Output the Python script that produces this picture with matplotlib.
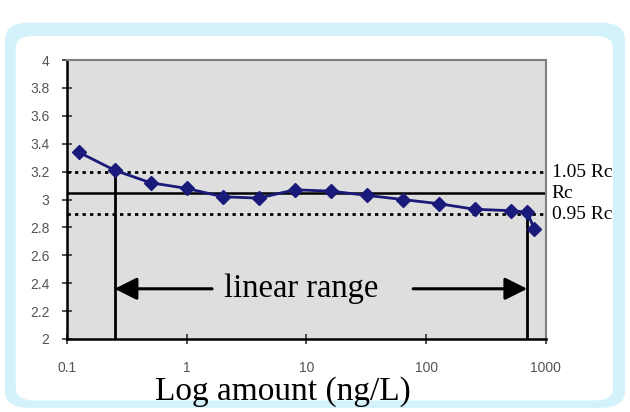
import matplotlib.pyplot as plt
from matplotlib.patches import FancyBboxPatch
from matplotlib.transforms import blended_transform_factory

# datos
amount = [0.125, 0.25, 0.5, 1, 2, 4, 8, 16, 32, 64, 128, 256, 512, 700, 800]
ratio = [3.34, 3.21, 3.12, 3.08, 3.02, 3.01, 3.07, 3.06, 3.03, 3.00, 2.97, 2.93, 2.92, 2.91, 2.79]
rc = 3.045
band_labels = ['1.05 Rc', 'Rc', '0.95 Rc']
band_factors = [1.05, 1.0, 0.95]
range_low, range_high = 0.25, 700
arrow_y = 2.36
arrow_left_start = 1.63
arrow_right_start = 78
xticks = [0.1, 1, 10, 100, 1000]
xtick_labels = ['0.1', '1', '10', '100', '1000']
yticks = [2, 2.2, 2.4, 2.6, 2.8, 3, 3.2, 3.4, 3.6, 3.8, 4]
ytick_labels = ['2', '2.2', '2.4', '2.6', '2.8', '3', '3.2', '3.4', '3.6', '3.8', '4']

serif = 'Liberation Serif'

fig = plt.figure(figsize=(6.3, 4.12), dpi=100)

# marco azul redondeado
outer = FancyBboxPatch((0.008, 0.01), 0.984, 0.935, boxstyle='round,pad=0,rounding_size=0.04',
                       transform=fig.transFigure, facecolor='#d3f2fc', edgecolor='none', zorder=-2)
inner = FancyBboxPatch((0.025, 0.028), 0.948, 0.885, boxstyle='round,pad=0,rounding_size=0.03',
                       transform=fig.transFigure, facecolor='white', edgecolor='none', zorder=-1)
fig.patches.extend([outer, inner])

ax = fig.add_axes([0.1063, 0.1772, 0.760, 0.677])
ax.set_facecolor('#dedede')
ax.set_xscale('log')
ax.set_xlim(0.1, 1000)
ax.set_ylim(2, 4)

ax.set_xticks(xticks)
ax.set_xticklabels(xtick_labels)
ax.set_yticks(yticks)
ax.set_yticklabels(ytick_labels)
ax.minorticks_off()
ax.tick_params(direction='inout', length=7, width=1.2, color='#333333',
               labelsize=10, labelcolor='#555555')
ax.tick_params(axis='x', pad=12)
ax.tick_params(axis='y', pad=9)
for lab in ax.get_xticklabels() + ax.get_yticklabels():
    lab.set_family('Liberation Sans')

for s in ['left', 'bottom']:
    ax.spines[s].set_color('black')
    ax.spines[s].set_linewidth(1.8)
for s in ['top', 'right']:
    ax.spines[s].set_color('#808080')
    ax.spines[s].set_linewidth(1.5)

# lineas Rc
trans = blended_transform_factory(ax.transAxes, ax.transData)
for f, lab in zip(band_factors, band_labels):
    y = rc * f
    if f == 1.0:
        ax.axhline(y, color='black', lw=1.8, zorder=2)
    else:
        ax.axhline(y, color='black', lw=2, linestyle=(0, (1.2, 1.5)), zorder=2)
    ax.text(1.012, y, lab, transform=trans, family=serif, fontsize=14,
            va='center', ha='left', clip_on=False)

# serie
ax.plot(amount, ratio, color='#1a1a7a', lw=2, marker='D', markersize=7, zorder=4)

# limites del rango lineal
y_low = ratio[amount.index(range_low)]
y_high = ratio[amount.index(range_high)]
ax.plot([range_low, range_low], [2, y_low], color='black', lw=2, zorder=3)
ax.plot([range_high, range_high], [2, y_high], color='black', lw=2, zorder=3)

arrow_props = dict(arrowstyle='-|>', mutation_scale=34, lw=2.2, color='black',
                   shrinkA=0, shrinkB=0)
ax.annotate('', xy=(range_low, arrow_y), xytext=(arrow_left_start, arrow_y), arrowprops=arrow_props)
ax.annotate('', xy=(range_high, arrow_y), xytext=(arrow_right_start, arrow_y), arrowprops=arrow_props)
ax.text(9.0, arrow_y, 'linear range', family=serif, fontsize=23.5, ha='center', va='center')

fig.text(0.449, 1 - 400 / 412, 'Log amount (ng/L)', family=serif, fontsize=24,
         ha='center', va='baseline')

plt.savefig('out.png', dpi=100)
plt.close(fig)
